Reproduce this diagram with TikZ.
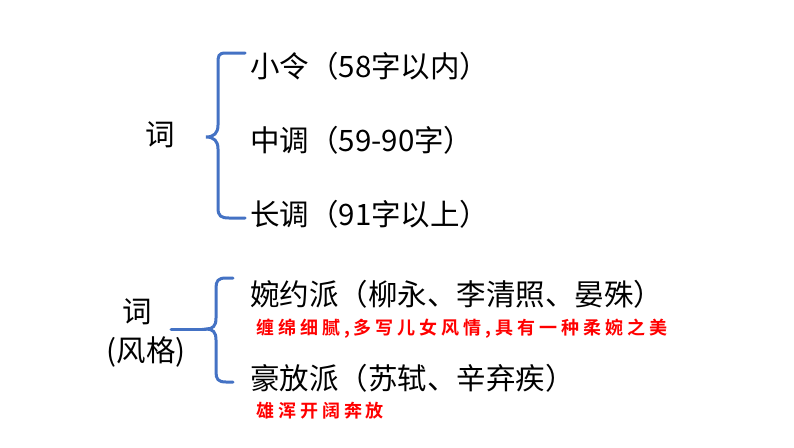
\documentclass[tikz,border=0pt]{standalone}
\usepackage{fontspec}
\setmainfont{Noto Sans CJK SC}
\newfontfamily\cjkb[LetterSpace=22]{Noto Sans CJK SC Bold}
\begin{document}
\begin{tikzpicture}[x=1pt,y=-1pt]
\definecolor{bb}{RGB}{68,114,196}
\tikzset{br/.style={draw=bb,line width=3pt,line cap=round},
 t/.style={anchor=west,font=\fontsize{29.5}{30}\selectfont,inner sep=0},
 r/.style={anchor=west,font=\cjkb\fontsize{18}{18}\selectfont,text=red,inner sep=0}}
\useasboundingbox (0,0) rectangle (794,447);
\fill[white] (0,0) rectangle (794,447);
% brace 1
\draw[br] (245,53) -- (226,53) .. controls (218,53) and (218,56) .. (218,64) -- (218,125) .. controls (218,133) and (214,137) .. (206,137) .. controls (214,137) and (218,141) .. (218,149) -- (218,208) .. controls (218,216) and (221,218) .. (229,218) -- (245,218);
\node[t,anchor=center] (c1) at (160,135) {词};
\node[t] (a1) at (250,66) {小令（58字以内）};
\node[t] (a2) at (250,140) {中调（59-90字）};
\node[t] (a3) at (250,214) {长调（91字以上）};
% brace 2
\draw[br] (233,278) -- (226,278) .. controls (218,278) and (216,281) .. (216,288) -- (216,318) .. controls (216,326) and (213,329) .. (206,329) .. controls (213,329) and (216,332) .. (216,340) -- (216,372) .. controls (216,379) and (218,382) .. (226,382) -- (233,382);
\draw[br] (171,329) -- (206,329);
\node[t,anchor=center] (c2) at (137,312) {词};
\node[t,anchor=center] (c3) at (146,352) {(风格)};
\node[t] (b1) at (250,294) {婉约派（柳永、李清照、晏殊）};
\node[r] (d1) at (256,329) {缠绵细腻,多写儿女风情,具有一种柔婉之美};
\node[t] (b2) at (250,378) {豪放派（苏轼、辛弃疾）};
\node[r] (d2) at (256,411) {雄浑开阔奔放};
\end{tikzpicture}
\end{document}
